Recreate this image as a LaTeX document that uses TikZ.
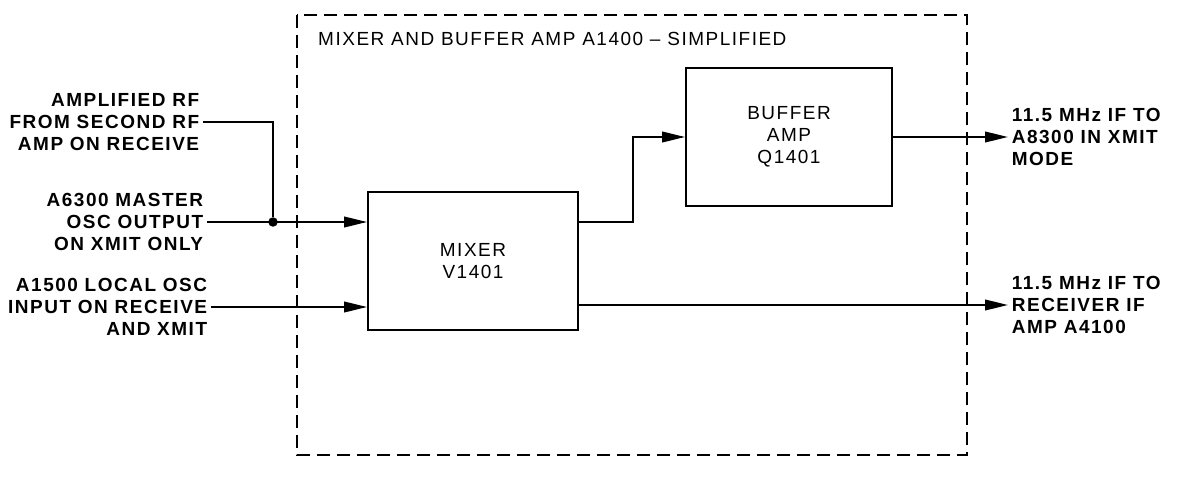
\documentclass[tikz,border=0pt]{standalone}
\usepackage{fontspec}
\setmainfont{Liberation Sans}
\newfontfamily\widefont[LetterSpace=8]{Liberation Sans}
\usetikzlibrary{arrows.meta}

\begin{document}
\begin{tikzpicture}[x=0.02cm, y=-0.02cm,
  font=\widefont\fontsize{10.8}{12.5}\selectfont,
  blk/.style={draw, line width=1.1pt, minimum width=4.2cm, minimum height=2.76cm, align=center},
  lbl/.style={font=\widefont\bfseries\fontsize{10.8}{12.5}\selectfont, inner sep=2pt},
  sig/.style={line width=1.1pt},
  arr/.style={sig, -{Triangle[length=13pt,width=6pt]}},
  dot/.style={circle, fill=black, inner sep=0pt, minimum size=0.19cm}]

\useasboundingbox (0,0) rectangle (1177,483);

% Cadre A1400
\draw[line width=1.1pt, dash pattern=on 0.26cm off 0.14cm] (297,15) rectangle (967,455);
\node[anchor=west] (titre) at (312,39) {MIXER AND BUFFER AMP A1400 – SIMPLIFIED};

% Blocs
\node[blk] (mixer) at (473,261) {MIXER\\V1401};
\node[blk, minimum width=4.12cm] (buffer) at (789,137) {BUFFER\\AMP\\Q1401};

% Entrees
\node[lbl, anchor=east, align=right] (rfin) at (203,122) {AMPLIFIED RF\\FROM SECOND RF\\AMP ON RECEIVE};
\node[lbl, anchor=east, align=right] (moin) at (207,222) {A6300 MASTER\\OSC OUTPUT\\ON XMIT ONLY};
\node[lbl, anchor=east, align=right] (loin) at (211,307) {A1500 LOCAL OSC\\INPUT ON RECEIVE\\AND XMIT};

% Sorties
\node[lbl, anchor=west, align=left] (ifxmit) at (1008,137) {11.5 MHz IF TO\\A8300 IN XMIT\\MODE};
\node[lbl, anchor=west, align=left] (ifrec) at (1008,305) {11.5 MHz IF TO\\RECEIVER IF\\AMP A4100};

% Liaisons
\node[dot] (jn) at (273,222) {};
\draw[sig] (rfin.east) -| (jn);
\draw[arr] (moin.east) -- (mixer.west |- moin.east);
\draw[arr] (loin.east) -- (mixer.west |- loin.east);
\draw[arr] ([yshift=0.78cm]mixer.east) -- ++(1.08cm,0) |- (buffer.west);
\draw[arr] (buffer.east) -- (ifxmit.west);
\draw[arr] (mixer.east |- ifrec.west) -- (ifrec.west);

\end{tikzpicture}
\end{document}
